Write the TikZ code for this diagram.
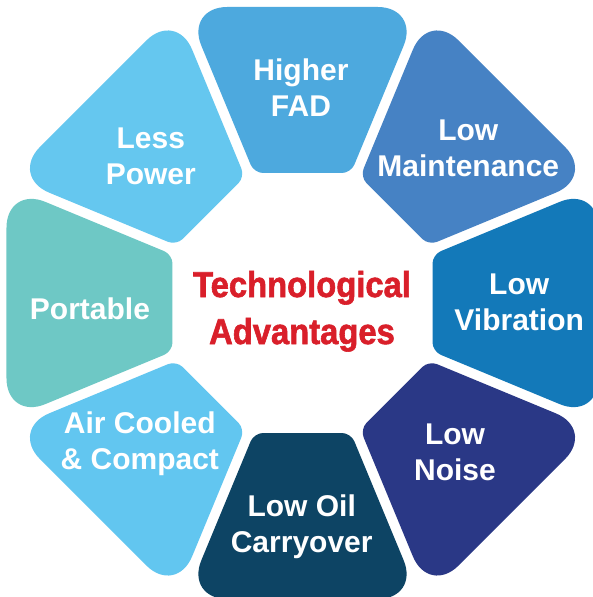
\documentclass[tikz,border=0pt]{standalone}
\usepackage{fontspec}
\setmainfont{Liberation Sans}
\newfontfamily\headfont[FakeStretch=0.91,FakeBold=1.6,UprightFont={* Bold}]{Liberation Sans}
\usetikzlibrary{calc}

\definecolor{fadblue}{HTML}{4DA9DE}
\definecolor{maintblue}{HTML}{4682C4}
\definecolor{vibblue}{HTML}{1379B9}
\definecolor{noiseblue}{HTML}{2A3886}
\definecolor{oilblue}{HTML}{0D4464}
\definecolor{airblue}{HTML}{62C6F0}
\definecolor{portteal}{HTML}{6EC8C5}
\definecolor{powerblue}{HTML}{65C7EF}
\definecolor{techred}{HTML}{D91F2A}

\begin{document}
\begin{tikzpicture}[x=1pt,y=1pt]
		\useasboundingbox (-302.5,-294) rectangle (290.5,303);
		\fill[white] (-302.5,-294) rectangle (290.5,303);
		\clip (-302.5,-294) rectangle (290.5,303);

		% eight pieces of the ring
		\foreach \ang/\col in {90/fadblue,45/maintblue,0/vibblue,-45/noiseblue,
			-90/oilblue,-135/airblue,180/portteal,135/powerblue}
			\fill[\col,rotate=\ang-90] (0,296) [rounded corners=42] -- (117.2,296)
				[rounded corners=9] -- (48.4,130) -- (-48.4,130)
				[rounded corners=42] -- (-117.2,296) -- cycle;

		\begin{scope}[every node/.style={text=white,align=center,
				font=\fontsize{30}{36}\selectfont\bfseries}]
			\node (f) at (-1.5,215.5) {Higher\\FAD};
			\node (m) at (165.8,154.3) {Low\\Maintenance};
			\node (v) at (216.7,0.2) {Low\\Vibration};
			\node (n) at (152.5,-149.2) {Low\\Noise};
			\node (o) at (-0.8,-224) {Low Oil\\Carryover};
			\node (c) at (-162.7,-140.7) {Air Cooled\\\& Compact};
			\node (p) at (-212.5,-5.8) {Portable};
			\node (l) at (-151.7,146.3) {Less\\Power};
		\end{scope}

		\node[text=techred,align=center,
			font=\headfont\fontsize{36}{47}\selectfont] (t) at (-0.5,-8.3)
			{Technological\\Advantages};
	\end{tikzpicture}
\end{document}
